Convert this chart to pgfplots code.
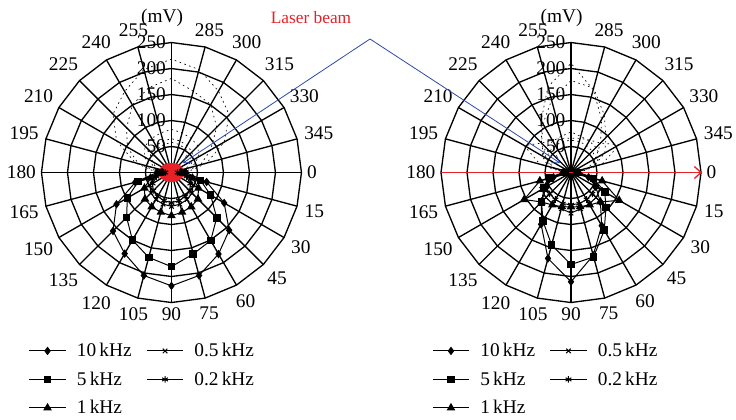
\documentclass[border=0pt]{standalone}
\usepackage{fontspec}
\setmainfont{Liberation Serif}
\usepackage{pgfplots}
\usepackage{pgfplotstable}
\pgfplotsset{compat=1.18}
\usepgfplotslibrary{polar}
\usetikzlibrary{arrows.meta}

\definecolor{beamred}{RGB}{232,32,40}
\definecolor{beamblue}{RGB}{45,75,165}

% angle (deg, clockwise from the right) and amplitude (mV)
\pgfplotstableread{
a   s10  s5   s1   s05  s02
0   28   22   18   15   12
15  70   58   42   35   30
30  117  87   60   48   42
45  157  123  72   56   50
60  181  151  76   60   53
75  205  162  79   63   56
90  218  181  83   65   58
105 205  169  79   63   56
120 180  150  76   60   53
135 159  122  72   56   50
150 122  98   60   48   42
165 72   66   42   35   30
180 28   22   18   15   12
}\leftdata

\pgfplotstableread{
a   s10  s5   s1   s05  s02
0   10   12   15   10   10
15  35   45   62   45   40
30  55   75   107  65   55
45  80   95   80   68   58
60  118  128  72   70   60
75  165  168  68   72   62
90  210  177  66   78   62
105 171  144  68   72   62
120 115  108  72   70   60
135 80   80   80   68   58
150 55   60   104  65   55
165 35   42   62   45   40
180 10   12   15   10   10
}\rightdata

% vertices of the polygonal rings (angle, unit radius)
\pgfplotstableread{
a   u
0   1
15  1
30  1
45  1
60  1
75  1
90  1
105 1
120 1
135 1
150 1
165 1
180 1
195 1
210 1
225 1
240 1
255 1
270 1
285 1
300 1
315 1
330 1
345 1
360 1
}\gridang

\newcommand{\lblfont}{\fontsize{14.5}{16}\selectfont}

\pgfplotsset{
  polarbase/.style={
    scale only axis, width=195pt, height=195pt,
    xmin=0, xmax=360, ymin=0, ymax=250,
    axis line style={draw=none},
    xmajorgrids=false, ymajorgrids=false,
    major tick length=0pt,
    ytick=\empty,
    xtick={0,15,30,45,60,75,105,120,135,150,165,180,195,210,225,240,255,270,285,300,315,330,345},
    xticklabels={0,345,330,315,300,285,255,240,225,210,195,180,165,150,135,120,105,90,75,60,45,30,15},
    tick label style={font=\lblfont},
    /pgf/number format/assume math mode=true,
    clip=false,
    legend columns=2,
    legend cell align=left,
    legend style={draw=none, fill=none, font=\lblfont, row sep=5.8pt,
      /tikz/every odd column/.append style={column sep=6pt},
      /tikz/every even column/.append style={column sep=9pt}},
    legend image code/.code={%
      \draw[mark repeat=2,mark phase=2,##1] plot coordinates {(0cm,0cm) (0.48cm,0cm) (0.96cm,0cm)};},
  },
  gridline/.style={black, line width=1pt, forget plot, no marks},
  ghost/.style={black, line width=0.5pt, dash pattern=on 1.2pt off 2.6pt, no marks, forget plot},
  ser/.style={black, line width=0.75pt, mark options={solid}},
}

\newcommand{\drawgrid}{%
  \pgfplotsinvokeforeach{0,15,...,345}{\addplot[gridline] coordinates {(##1,0) (##1,250)};}
  \pgfplotsinvokeforeach{50,100,150,200,250}{\addplot[gridline] table[x=a, y expr=##1*\thisrow{u}] {\gridang};}
}

% upper half: the same sweeps reflected, drawn as faint dotted traces
\newcommand{\drawghosts}[1]{%
  \addplot[ghost] table[x=a, y=s10] {#1};
  \addplot[ghost] table[x=a, y=s5] {#1};
  \addplot[ghost] table[x=a, y=s1] {#1};
  \addplot[ghost] table[x=a, y=s05] {#1};
  \addplot[ghost] table[x=a, y=s02] {#1};
}

\newcommand{\drawseries}[1]{%
  \addplot[ser, mark=diamond*, mark size=2.6pt] table[x expr=360-\thisrow{a}, y=s10] {#1};
  \addlegendentry{10\,kHz}
  \addplot[ser, mark=x, mark size=2.4pt] table[x expr=360-\thisrow{a}, y=s05] {#1};
  \addlegendentry{0.5\,kHz}
  \addplot[ser, mark=square*, mark size=2.5pt] table[x expr=360-\thisrow{a}, y=s5] {#1};
  \addlegendentry{5\,kHz}
  \addplot[ser, mark=asterisk, mark size=2.5pt] table[x expr=360-\thisrow{a}, y=s02] {#1};
  \addlegendentry{0.2\,kHz}
  \addplot[ser, mark=triangle*, mark size=3pt] table[x expr=360-\thisrow{a}, y=s1] {#1};
  \addlegendentry{1\,kHz}
}

\newcommand{\radiallabels}{%
  \pgfplotsinvokeforeach{50,100,150,200,250}{%
    \node[anchor=east, font=\lblfont, inner sep=2pt, xshift=-2pt] at (axis cs:90,##1) {##1};}
  \node[font=\lblfont] at (axis cs:90,250) [yshift=18.5pt, xshift=-7pt] {(mV)};
}

\begin{document}
\begin{tikzpicture}
\useasboundingbox (0,0) rectangle (552pt,315pt);

\begin{polaraxis}[polarbase, at={(128.6pt,185.6pt)}, anchor=center,
    xticklabel style={inner sep=4pt},
    legend style={at={(axis description cs:-0.065,-0.135)}, anchor=north west}]
  \drawgrid
  \drawghosts{\leftdata}
  \drawseries{\leftdata}
  \fill[beamred] (axis cs:0,0) ellipse[x radius=9.75pt, y radius=7.25pt];
  \radiallabels
\end{polaraxis}

\begin{polaraxis}[polarbase, at={(428.25pt,185.6pt)}, anchor=center,
    xticklabel style={inner sep=4pt},
    legend style={at={(axis description cs:-0.05,-0.135)}, anchor=north west}]
  \drawgrid
  \drawghosts{\rightdata}
  \drawseries{\rightdata}
  \draw[beamred, line width=1pt, -{Straight Barb[length=5pt, width=9pt]}]
    (axis cs:180,250) -- (axis cs:0,252);
  \radiallabels
\end{polaraxis}

% laser beam callout
\node[text=beamred, font=\fontsize{13}{15}\selectfont] at (233.25pt,301.5pt) {Laser beam};
\draw[beamblue, line width=0.6pt, -{Straight Barb[length=5pt, width=7pt]}]
  (277.5pt,285.75pt) -- (137.25pt,192.75pt);
\draw[beamblue, line width=0.6pt, -{Straight Barb[length=5pt, width=7pt]}]
  (277.5pt,285.75pt) -- (420pt,192.75pt);
\end{tikzpicture}
\end{document}
